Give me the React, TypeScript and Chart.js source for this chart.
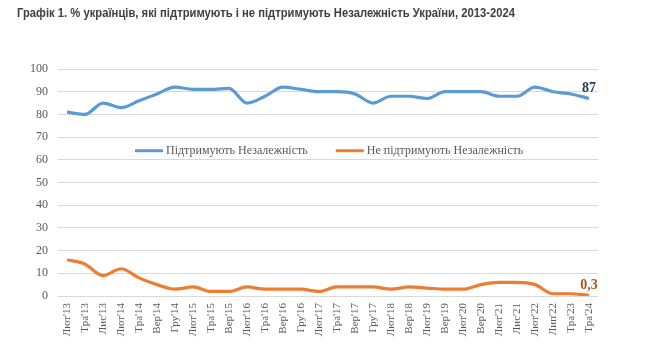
import React, { useEffect, useRef } from "react";
import { Chart, registerables } from "chart.js";

Chart.register(...registerables);

const categories = [
  "Лют'13", "Тра'13", "Лис'13", "Лют'14", "Тра'14", "Вер'14", "Гру'14", "Лют'15", "Тра'15", "Вер'15",
  "Лют'16", "Тра'16", "Вер'16", "Гру'16", "Лют'17", "Тра'17", "Вер'17", "Гру'17", "Лют'18", "Вер'18",
  "Лют'19", "Вер'19", "Лют'20", "Вер'20", "Лют'21", "Лис'21", "Лют'22", "Лип'22", "Тра'23", "Тра'24",
];

const support = [
  81, 80, 85, 83, 86, 89, 92, 91, 91, 91.5,
  85, 88, 92, 91, 90, 90, 89, 85, 88, 88,
  87, 90, 90, 90, 88, 88, 92, 90, 89, 87,
];

const notSupport = [
  16, 14, 9, 12, 8, 5, 3, 4, 2, 2,
  4, 3, 3, 3, 2, 4, 4, 4, 3, 4,
  3.5, 3, 3, 5, 6, 6, 5, 1, 1, 0.3,
];

const seriesNames = ["Підтримують Незалежність", "Не підтримують Незалежність"];
const endLabels = ["87", "0,3"];
const title = "Графік 1. % українців, які підтримують і не підтримують Незалежність України, 2013-2024";

const BLUE = "#5B9BD5";
const ORANGE = "#ED7D31";

const overlayPlugin = {
  id: "overlay",
  afterDatasetsDraw(chart: any) {
    const ctx = chart.ctx;
    const area = chart.chartArea;
    const y = chart.scales.y;
    ctx.save();
    ctx.font = "12px 'Liberation Serif', serif";
    ctx.textBaseline = "middle";
    const ly = y.getPixelForValue(64);
    let lx = area.left + 77;
    const colors = [BLUE, ORANGE];
    seriesNames.forEach((name, i) => {
      ctx.strokeStyle = colors[i];
      ctx.lineWidth = 3;
      ctx.beginPath();
      ctx.moveTo(lx, ly);
      ctx.lineTo(lx + 28, ly);
      ctx.stroke();
      ctx.fillStyle = "#595959";
      ctx.textAlign = "left";
      ctx.fillText(name, lx + 31, ly + 0.5);
      lx += 31 + ctx.measureText(name).width + 28;
    });
    ctx.font = "bold 14px 'Liberation Serif', serif";
    ctx.textAlign = "center";
    ctx.textBaseline = "bottom";
    const labelColors = ["#1F3A5F", "#B5541A"];
    [0, 1].forEach((di) => {
      const meta = chart.getDatasetMeta(di);
      const pt = meta.data[meta.data.length - 1];
      ctx.fillStyle = labelColors[di];
      ctx.fillText(endLabels[di], pt.x, pt.y - 3);
    });
    ctx.restore();
  },
};

export default function App() {
  const ref = useRef<HTMLCanvasElement>(null);
  useEffect(() => {
    if (!ref.current) return;
    const chart = new Chart(ref.current, {
      type: "line",
      data: {
        labels: categories,
        datasets: [
          {
            label: seriesNames[0],
            data: support,
            borderColor: BLUE,
            backgroundColor: BLUE,
            borderWidth: 3.2,
            pointRadius: 0,
            tension: 0.4,
            cubicInterpolationMode: "monotone",
          },
          {
            label: seriesNames[1],
            data: notSupport,
            borderColor: ORANGE,
            backgroundColor: ORANGE,
            borderWidth: 3.2,
            pointRadius: 0,
            tension: 0.4,
            cubicInterpolationMode: "monotone",
          },
        ],
      },
      options: {
        responsive: false,
        animation: false,
        layout: { padding: { left: 0, right: 49, top: 69, bottom: 0 } },
        plugins: {
          legend: { display: false },
          tooltip: { enabled: false },
          title: { display: false },
        },
        scales: {
          x: {
            offset: true,
            grid: { display: false, drawTicks: false },
            border: { display: false },
            ticks: {
              autoSkip: false,
              maxRotation: 90,
              minRotation: 90,
              padding: 7,
              color: "#595959",
              font: { family: "'Liberation Serif', serif", size: 11 },
            },
            afterFit: (s: any) => {
              s.height = 65;
            },
          },
          y: {
            min: 0,
            max: 100,
            ticks: {
              stepSize: 10,
              padding: 10,
              color: "#595959",
              font: { family: "'Liberation Serif', serif", size: 12 },
            },
            grid: { color: "#D9D9D9", drawTicks: false },
            border: { display: false },
            afterFit: (s: any) => {
              s.width = 58;
            },
          },
        },
      },
      plugins: [overlayPlugin],
    });
    return () => chart.destroy();
  }, []);

  return (
    <div style={{ position: "fixed", left: 0, top: 0, width: 647, height: 361, background: "#fff" }}>
      <canvas ref={ref} width={647} height={361} style={{ position: "absolute", left: 0, top: 0 }} />
      <div
        style={{
          position: "absolute",
          left: 17,
          top: 6,
          fontFamily: "'Liberation Sans', Arial, sans-serif",
          fontWeight: "bold",
          fontSize: 12.5,
          color: "#404040",
          whiteSpace: "nowrap",
          transform: "scaleX(0.9)",
          transformOrigin: "left top",
        }}
      >
        {title}
      </div>
    </div>
  );
}
